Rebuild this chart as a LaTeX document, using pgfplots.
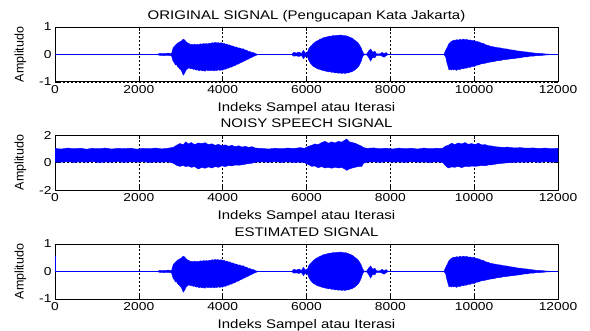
\documentclass[border=0pt]{standalone}
\usepackage{pgfplots}
\pgfplotsset{compat=1.18}
\usepackage{pgfplotstable}
\usepackage{fontspec}
\setmainfont{Liberation Sans}[FakeStretch=1.2]
\newfontfamily\ylabfont{Liberation Sans}

\pgfplotstableread{
x u l
0 0.01 -0.01
2450 0.01 -0.01
2500 0.04 -0.03
2600 0.03 -0.04
2700 0.05 -0.03
2780 0.03 -0.05
2820 0.25 -0.26
2850 0.30 -0.30
2870 0.33 -0.38
2900 0.38 -0.36
2920 0.41 -0.44
2950 0.43 -0.47
2970 0.46 -0.52
3000 0.47 -0.55
3020 0.50 -0.60
3060 0.56 -0.75
3100 0.52 -0.66
3120 0.47 -0.58
3140 0.45 -0.55
3170 0.41 -0.51
3200 0.40 -0.48
3230 0.36 -0.52
3260 0.37 -0.50
3300 0.35 -0.54
3330 0.38 -0.53
3370 0.35 -0.57
3400 0.37 -0.55
3440 0.36 -0.59
3470 0.39 -0.56
3510 0.37 -0.60
3540 0.40 -0.58
3580 0.38 -0.61
3610 0.40 -0.56
3650 0.38 -0.59
3680 0.41 -0.57
3720 0.40 -0.59
3750 0.43 -0.56
3790 0.41 -0.60
3820 0.44 -0.57
3860 0.42 -0.59
3890 0.43 -0.55
3930 0.41 -0.58
3960 0.43 -0.56
4000 0.40 -0.57
4030 0.41 -0.53
4070 0.37 -0.54
4100 0.38 -0.50
4140 0.34 -0.50
4170 0.35 -0.46
4210 0.31 -0.46
4250 0.31 -0.42
4290 0.27 -0.41
4330 0.27 -0.36
4370 0.23 -0.35
4410 0.24 -0.31
4450 0.20 -0.29
4490 0.21 -0.25
4530 0.16 -0.23
4570 0.16 -0.19
4610 0.11 -0.17
4650 0.11 -0.13
4690 0.07 -0.11
4720 0.08 -0.08
4780 0.03 -0.04
4830 0.01 -0.01
5650 0.01 -0.01
5700 0.08 -0.06
5760 0.05 -0.05
5820 0.09 -0.07
5880 0.04 -0.04
5930 0.15 -0.15
5970 0.05 -0.06
6030 0.10 -0.10
6050 0.20 -0.20
6080 0.26 -0.28
6100 0.30 -0.33
6130 0.34 -0.38
6165 0.40 -0.44
6200 0.44 -0.46
6240 0.49 -0.50
6280 0.51 -0.53
6325 0.56 -0.54
6360 0.57 -0.57
6400 0.61 -0.58
6440 0.62 -0.60
6480 0.64 -0.61
6520 0.65 -0.63
6560 0.67 -0.62
6600 0.67 -0.65
6640 0.69 -0.64
6680 0.68 -0.67
6720 0.70 -0.66
6760 0.69 -0.68
6800 0.71 -0.67
6840 0.70 -0.69
6880 0.69 -0.67
6920 0.69 -0.69
6960 0.67 -0.67
7000 0.65 -0.67
7040 0.62 -0.64
7080 0.60 -0.63
7120 0.56 -0.59
7150 0.52 -0.57
7180 0.48 -0.52
7210 0.45 -0.49
7240 0.40 -0.44
7270 0.33 -0.36
7300 0.25 -0.26
7340 0.10 -0.08
7370 0.01 -0.01
7440 0.02 -0.02
7480 0.12 -0.10
7530 0.20 -0.24
7580 0.08 -0.10
7630 0.12 -0.12
7670 0.02 -0.03
7770 0.03 -0.03
7800 0.08 -0.06
7850 0.03 -0.10
7900 0.07 -0.04
7940 0.01 -0.01
9280 0.01 -0.01
9320 0.15 -0.08
9350 0.24 -0.30
9370 0.30 -0.40
9400 0.40 -0.56
9430 0.44 -0.52
9450 0.47 -0.57
9480 0.49 -0.53
9505 0.52 -0.56
9540 0.51 -0.54
9580 0.54 -0.58
9620 0.52 -0.53
9660 0.55 -0.55
9700 0.53 -0.51
9740 0.56 -0.52
9780 0.53 -0.49
9820 0.55 -0.50
9860 0.52 -0.46
9900 0.53 -0.47
9950 0.50 -0.43
10000 0.51 -0.44
10050 0.47 -0.39
10110 0.46 -0.38
10160 0.42 -0.34
10220 0.40 -0.33
10280 0.35 -0.31
10340 0.33 -0.29
10400 0.29 -0.27
10460 0.28 -0.26
10540 0.25 -0.23
10620 0.24 -0.22
10700 0.21 -0.19
10780 0.20 -0.18
10860 0.17 -0.16
10940 0.16 -0.15
11020 0.13 -0.13
11100 0.12 -0.12
11180 0.10 -0.09
11260 0.09 -0.09
11330 0.07 -0.06
11410 0.06 -0.06
11490 0.04 -0.04
11570 0.04 -0.04
11700 0.02 -0.02
11800 0.01 -0.01
12000 0.01 -0.01
}\sigA

\pgfplotstableread{
x u l
0 1.02 0.04
150 0.98 0.02
300 1.05 0.06
450 1.00 0.01
600 1.04 0.05
750 0.97 0.02
900 1.03 0.07
1050 1.00 0.00
1200 1.05 0.04
1350 0.98 0.02
1500 1.03 0.06
1650 1.01 0.01
1800 1.04 0.05
1950 0.97 0.02
2100 1.03 0.06
2250 1.00 0.01
2400 1.05 0.04
2550 0.99 0.02
2700 1.04 0.05
2820 1.10 -0.05
2900 1.25 -0.20
2980 1.38 -0.28
3060 1.30 -0.22
3120 1.50 -0.30
3180 1.35 -0.25
3250 1.45 -0.35
3330 1.30 -0.30
3420 1.42 -0.47
3500 1.38 -0.35
3580 1.44 -0.42
3660 1.30 -0.32
3740 1.36 -0.40
3820 1.25 -0.30
3900 1.32 -0.35
3980 1.22 -0.24
4060 1.28 -0.30
4140 1.18 -0.22
4220 1.25 -0.25
4300 1.15 -0.18
4380 1.22 -0.20
4460 1.12 -0.17
4540 1.18 -0.12
4620 1.10 -0.08
4700 1.15 -0.05
4780 1.05 0.02
4950 1.02 0.05
5100 0.98 0.02
5250 1.04 0.06
5400 1.00 0.01
5550 1.05 0.05
5700 1.02 0.00
5850 1.08 0.03
5950 1.03 -0.02
6050 1.18 -0.15
6125 1.25 -0.28
6200 1.35 -0.25
6280 1.30 -0.38
6360 1.45 -0.30
6443 1.54 -0.40
6520 1.40 -0.35
6600 1.50 -0.42
6680 1.42 -0.34
6760 1.54 -0.40
6840 1.48 -0.36
6900 1.60 -0.45
6960 1.71 -0.57
7020 1.50 -0.47
7090 1.45 -0.40
7158 1.40 -0.35
7230 1.30 -0.30
7318 1.18 -0.28
7360 1.08 -0.05
7450 1.03 0.02
7600 1.06 0.05
7750 1.00 0.01
7900 1.04 0.06
8050 0.98 0.02
8200 1.05 0.05
8350 1.00 0.01
8500 1.04 0.06
8650 0.98 0.02
8800 1.05 0.04
8950 1.00 0.01
9100 1.04 0.05
9250 1.02 0.00
9306 1.18 -0.20
9380 1.25 -0.40
9465 1.40 -0.32
9540 1.30 -0.35
9620 1.42 -0.28
9700 1.35 -0.38
9783 1.45 -0.28
9860 1.32 -0.30
9940 1.38 -0.26
10020 1.30 -0.28
10100 1.40 -0.25
10180 1.28 -0.22
10260 1.30 -0.24
10340 1.22 -0.18
10420 1.20 -0.17
10500 1.15 -0.12
10600 1.12 -0.08
10700 1.10 -0.05
10800 1.12 -0.02
10950 1.06 0.01
11100 1.08 0.03
11250 1.04 0.02
11400 1.06 0.05
11550 1.02 0.01
11700 1.05 0.06
11850 1.00 0.02
12000 1.04 0.05
}\sigB

\pgfplotsset{mstyle/.style={
  scale only axis, width=503pt, height=55pt,
  xmin=0, xmax=12000,
  scaled x ticks=false, scaled y ticks=false,
  xtick={0,2000,4000,6000,8000,10000,12000},
  xticklabels={0,2000,4000,6000,8000,10000,12000},
  tick align=inside, major tick length=4pt,
  xtick pos=both, ytick pos=both,
  xmajorgrids, ymajorgrids,
  grid style={black, line width=0.5pt, dash pattern=on 2pt off 2pt},
  axis line style={black, line width=1pt},
  tick style={black, line width=0.6pt},
  tick label style={font=\fontsize{11.5}{13}\selectfont},
  title style={font=\fontsize{12.5}{14}\selectfont, at={(0.5,1.036)}, anchor=base},
  xlabel style={font=\fontsize{12.5}{14}\selectfont, at={(0.5,-0.53)}, anchor=base},
  ylabel style={font=\ylabfont\fontsize{12.5}{14}\selectfont, at={(-0.0690,0.5)}, anchor=center},
  xlabel={Indeks Sampel atau Iterasi}, ylabel={Amplitudo},
}}

\begin{document}
\begin{tikzpicture}
\useasboundingbox (0,0) rectangle (590pt,330pt);

\begin{axis}[mstyle, at={(55pt,248pt)}, anchor=south west,
  ymin=-1, ymax=1, ytick={-1,0,1}, yticklabels={-1,0,1},
  title={ORIGINAL SIGNAL (Pengucapan Kata Jakarta)}]
\addplot[draw=none, stack plots=y, forget plot] table[x=x,y=l]{\sigA};
\addplot[fill=blue, draw=blue, line width=0.4pt, stack plots=y] table[x=x,y expr=\thisrow{u}-\thisrow{l}]{\sigA} \closedcycle;
\end{axis}

\begin{axis}[mstyle, at={(55pt,140pt)}, anchor=south west,
  ymin=-2, ymax=2, ytick={-2,0,2}, yticklabels={-2,0,2},
  title={NOISY SPEECH SIGNAL}]
\addplot[draw=none, stack plots=y, forget plot] table[x=x,y=l]{\sigB};
\addplot[fill=blue, draw=blue, line width=0.4pt, stack plots=y] table[x=x,y expr=\thisrow{u}-\thisrow{l}]{\sigB} \closedcycle;
\end{axis}

\begin{axis}[mstyle, at={(55pt,31pt)}, anchor=south west,
  ymin=-1, ymax=1, ytick={-1,0,1}, yticklabels={-1,0,1},
  title={ESTIMATED SIGNAL}]
\addplot[draw=none, stack plots=y, forget plot] table[x=x,y=l]{\sigA};
\addplot[fill=blue, draw=blue, line width=0.4pt, stack plots=y] table[x=x,y expr=\thisrow{u}-\thisrow{l}]{\sigA} \closedcycle;
\addplot[blue, line width=0.8pt, stack plots=false] coordinates {(15,0) (15,0.58)};
\end{axis}
\end{tikzpicture}
\end{document}
